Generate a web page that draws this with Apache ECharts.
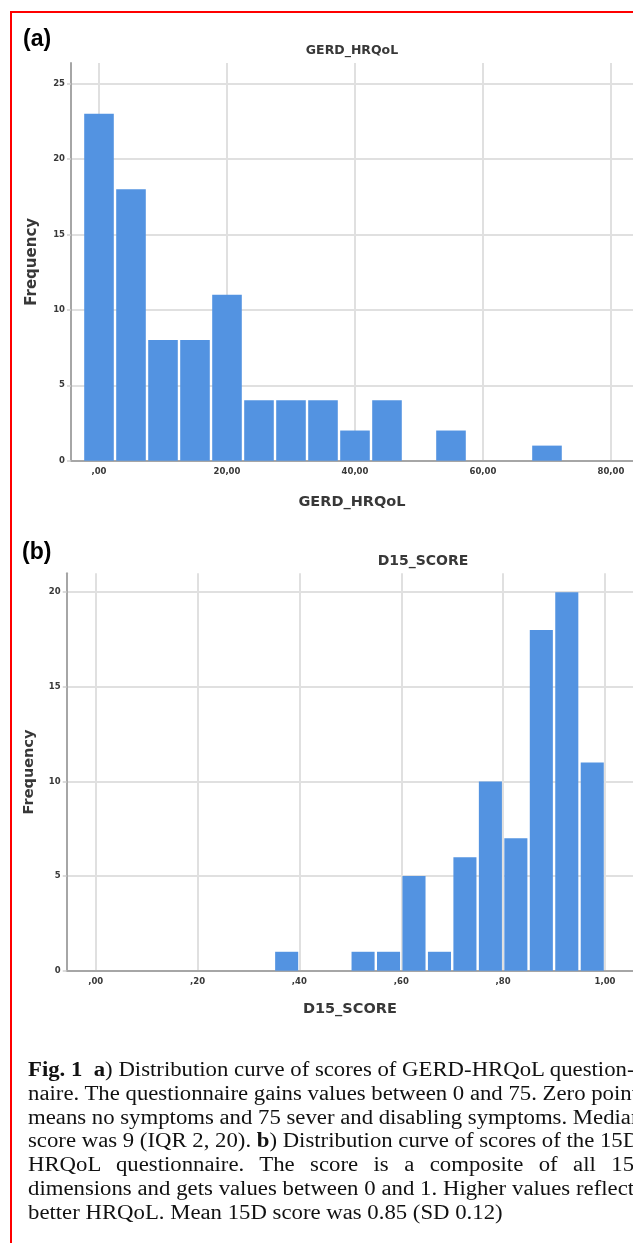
<!DOCTYPE html>
<html>
<head>
<meta charset="utf-8">
<script src="https://cdn.jsdelivr.net/npm/echarts@6/dist/echarts.min.js"></script>
<style>
  html, body { margin: 0; padding: 0; background: #ffffff; width: 633px; height: 1243px; overflow: hidden; }
  #frame { position: absolute; left: 10px; top: 11px; width: 700px; height: 1300px; border: 2px solid #ff0000; box-sizing: border-box; }
  #chart { position: absolute; left: 0; top: 0; width: 633px; height: 1243px; }
  #caption { position: absolute; left: 28px; top: 1058px; width: 546px; font-family: "Liberation Serif", "Times New Roman", serif; font-size: 20.5px; line-height: 23.8px; color: #111; transform: scaleX(1.11); transform-origin: 0 0; }
  #caption .j { text-align: justify; text-align-last: justify; white-space: nowrap; }
  #caption .l { text-align: left; white-space: nowrap; }
</style>
</head>
<body>
<div id="frame"></div>
<div id="chart"></div>
<div id="caption">
  <div class="j"><b>Fig. 1</b>&ensp;<b>a</b>) Distribution curve of scores of GERD-HRQoL question-</div>
  <div class="j">naire. The questionnaire gains values between 0 and 75. Zero points</div>
  <div class="j">means no symptoms and 75 sever and disabling symptoms. Median</div>
  <div class="j">score was 9 (IQR 2, 20). <b>b</b>) Distribution curve of scores of the 15D-</div>
  <div class="j">HRQoL questionnaire. The score is a composite of all 15</div>
  <div class="j">dimensions and gets values between 0 and 1. Higher values reflect</div>
  <div class="l">better HRQoL. Mean 15D score was 0.85 (SD 0.12)</div>
</div>
<script>
// ---- Panel (a): GERD_HRQoL histogram ----
const gerdBinCenters = [0, 5, 10, 15, 20, 25, 30, 35, 40, 45, 50, 55, 60, 65, 70];
const gerdFrequency  = [23, 18, 8, 8, 11, 4, 4, 4, 2, 4, 0, 2, 0, 0, 1];
const gerdBinWidth = 5;
const gerdTickStep = 20;

// ---- Panel (b): D15_SCORE histogram ----
const d15BinStarts = [0.35, 0.40, 0.45, 0.50, 0.55, 0.60, 0.65, 0.70, 0.75, 0.80, 0.85, 0.90, 0.95];
const d15Frequency = [1, 0, 0, 1, 1, 5, 1, 6, 10, 7, 18, 20, 11];
const d15BinWidth = 0.05;
const d15TickStep = 0.2;

const BAR = '#5393e1';
const GRID_LINE = '#e0e0e0';
const AXIS_LINE = '#a6a6a6';
const TXT = '#383838';
const SANS = '"DejaVu Sans", "Liberation Sans", sans-serif';

function commaLabel(step) {
  return function (v) {
    const k = v / step;
    if (Math.abs(k - Math.round(k)) > 1e-6) return '';
    let s = v.toFixed(2).replace('.', ',');
    if (s.indexOf('0,') === 0) s = s.slice(1);
    return s;
  };
}

function histRender(params, api) {
  const lo = api.value(0), hi = api.value(1), v = api.value(2);
  if (!v) return null;
  const p0 = api.coord([lo, 0]);
  const p1 = api.coord([hi, v]);
  return {
    type: 'rect',
    shape: { x: p0[0] + 1.2, y: p1[1], width: p1[0] - p0[0] - 2.4, height: p0[1] - p1[1] },
    style: { fill: BAR }
  };
}

const gerdData = gerdBinCenters.map((c, i) => [c - gerdBinWidth / 2, c + gerdBinWidth / 2, gerdFrequency[i]]);
const d15Data = d15BinStarts.map((s, i) => [s, s + d15BinWidth, d15Frequency[i]]);

function xAxisCfg(gridIndex, min, max, step, name, nameGap) {
  return {
    type: 'value', gridIndex, min, max, minInterval: step, maxInterval: step,
    name, nameLocation: 'middle', nameGap,
    nameTextStyle: { fontFamily: SANS, fontWeight: 'bold', fontSize: 14.5, color: TXT },
    axisLine: { show: true, onZero: false, lineStyle: { color: AXIS_LINE, width: 2 } },
    axisTick: { show: false },
    axisLabel: { formatter: commaLabel(step), showMinLabel: false, showMaxLabel: false, margin: 7,
                 fontFamily: SANS, fontWeight: 'bold', fontSize: 8.5, color: TXT },
    splitLine: { show: true, showMinLine: false, showMaxLine: false, lineStyle: { color: GRID_LINE, width: 2 } }
  };
}
function yAxisCfg(gridIndex, max, nameGap, nameSize) {
  return {
    type: 'value', gridIndex, min: 0, max, interval: 5,
    name: 'Frequency', nameLocation: 'middle', nameGap,
    nameTextStyle: { fontFamily: SANS, fontWeight: 'bold', fontSize: nameSize, color: TXT },
    axisLine: { show: true, onZero: false, lineStyle: { color: AXIS_LINE, width: 2 } },
    axisTick: { show: true, length: 4, lineStyle: { color: '#d0d0d0', width: 1.5 } },
    axisLabel: { showMaxLabel: false, margin: 6, fontFamily: SANS, fontWeight: 'bold', fontSize: 8.5, color: TXT },
    splitLine: { show: true, showMaxLine: false, lineStyle: { color: GRID_LINE, width: 2 } }
  };
}

const chart = echarts.init(document.getElementById('chart'), null, { renderer: 'canvas' });
chart.setOption({
  animation: false,
  backgroundColor: 'transparent',
  grid: [
    { left: 71, top: 63, width: 562, height: 397.7 },
    { left: 66.7, top: 573.3, width: 566.3, height: 397.4 }
  ],
  xAxis: [
    xAxisCfg(0, -4.375, 83.44, gerdTickStep, 'GERD_HRQoL', 34),
    xAxisCfg(1, -0.0569, 1.055, d15TickStep, 'D15_SCORE', 31)
  ],
  yAxis: [
    yAxisCfg(0, 26.36, 31, 15),
    yAxisCfg(1, 21.0, 30, 14.5)
  ],
  graphic: [
    { type: 'text', x: 23, y: 40, style: { text: '(a)', fontFamily: '"Liberation Sans", Arial, sans-serif', fontWeight: 'bold', fontSize: 23, fill: '#000', align: 'left', verticalAlign: 'middle' } },
    { type: 'text', x: 22, y: 553, style: { text: '(b)', fontFamily: '"Liberation Sans", Arial, sans-serif', fontWeight: 'bold', fontSize: 23, fill: '#000', align: 'left', verticalAlign: 'middle' } },
    { type: 'text', x: 352, y: 51, style: { text: 'GERD_HRQoL', fontFamily: SANS, fontWeight: 'bold', fontSize: 12.5, fill: TXT, align: 'center', verticalAlign: 'middle' } },
    { type: 'text', x: 423, y: 561, style: { text: 'D15_SCORE', fontFamily: SANS, fontWeight: 'bold', fontSize: 14, fill: TXT, align: 'center', verticalAlign: 'middle' } }
  ],
  series: [
    { type: 'custom', xAxisIndex: 0, yAxisIndex: 0, renderItem: histRender, encode: { x: [0, 1], y: 2 }, data: gerdData },
    { type: 'custom', xAxisIndex: 1, yAxisIndex: 1, renderItem: histRender, encode: { x: [0, 1], y: 2 }, data: d15Data }
  ]
});
</script>
</body>
</html>
